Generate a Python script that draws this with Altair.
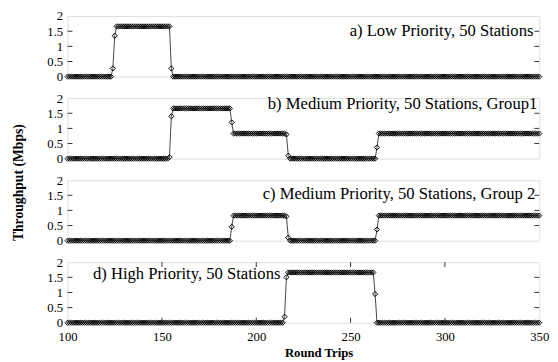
import altair as alt
import pandas as pd

# ---- data ----
rounds = list(range(100, 351))

# runs of (first round trip, last round trip, throughput in Mbps)
runs_a = [(100, 123, 0.0), (124, 124, 0.27), (125, 125, 1.35), (126, 154, 1.66),
          (155, 155, 0.27), (156, 350, 0.0)]
runs_b = [(100, 153, 0.0), (154, 154, 0.05), (155, 155, 1.4), (156, 186, 1.66),
          (187, 187, 1.2), (188, 215, 0.83), (216, 216, 0.8), (217, 217, 0.1),
          (218, 263, 0.0), (264, 264, 0.37), (265, 350, 0.83)]
runs_c = [(100, 186, 0.0), (187, 187, 0.46), (188, 215, 0.83), (216, 216, 0.8),
          (217, 217, 0.1), (218, 263, 0.0), (264, 264, 0.37), (265, 350, 0.83)]
runs_d = [(100, 214, 0.0), (215, 215, 0.2), (216, 216, 1.5), (217, 262, 1.66),
          (263, 263, 0.95), (264, 350, 0.0)]

labels = ["a) Low Priority, 50 Stations",
          "b) Medium Priority, 50 Stations, Group1",
          "c) Medium Priority, 50 Stations, Group 2",
          "d) High Priority, 50 Stations"]

y_ticks = [0, 0.5, 1, 1.5, 2]
y_inner_ticks = [0.5, 1, 1.5]
x_ticks = [100, 150, 200, 250, 300, 350]
x_inner_ticks = [150, 200, 250, 300]


def expand(runs):
    vals = []
    for s, e, v in runs:
        vals += [v] * (e - s + 1)
    return vals


W, H = 483, 62
FONT = "Liberation Serif"
xscale = alt.Scale(domain=[100, 350], nice=False, zero=False)
yscale = alt.Scale(domain=[0, 2], nice=False, zero=False)


def panel(runs, label, align, tx, ty, ytitle=False, last=False):
    df = pd.DataFrame({"r": rounds, "t": expand(runs)})
    if last:
        xaxis = alt.Axis(values=x_ticks, ticks=False, domain=False, grid=False,
                         labelFont=FONT, labelFontSize=13, labelPadding=8,
                         labelFlush=False, labelColor="black",
                         title="Round Trips", titleFont=FONT, titleFontSize=13,
                         titleFontWeight="bold", titleColor="black",
                         titleX=257, titleY=35, titleBaseline="alphabetic",
                         titleAlign="center")
    else:
        xaxis = None
    yargs = dict(values=y_ticks, format="~g", ticks=False, domain=False, grid=False,
                 labelFont=FONT, labelFontSize=13, labelPadding=5, labelColor="black")
    if ytitle:
        yaxis = alt.Axis(title="Throughput (Mbps)", titleFont=FONT, titleFontSize=14,
                         titleFontWeight="bold", titleColor="black", titleX=-46,
                         titleY=86, titleBaseline="alphabetic", titleAlign="center",
                         **yargs)
    else:
        yaxis = alt.Axis(title=None, **yargs)

    X = alt.X("r:Q", scale=xscale, axis=xaxis)
    Y = alt.Y("t:Q", scale=yscale, axis=yaxis)
    base = alt.Chart(df)
    line = base.mark_line(color="#444", strokeWidth=1).encode(x=X, y=Y)
    pts = base.mark_point(shape="diamond", filled=False, color="black",
                          size=28, strokeWidth=1, opacity=1).encode(x=X, y=Y)
    ydf = pd.DataFrame({"t": y_inner_ticks})
    lt = alt.Chart(ydf).mark_rule(color="#333", strokeWidth=1).encode(
        y=Y, x=alt.value(0), x2=alt.value(5))
    rt = alt.Chart(ydf).mark_rule(color="#333", strokeWidth=1).encode(
        y=Y, x=alt.value(W - 5), x2=alt.value(W))
    txt = alt.Chart(pd.DataFrame({"s": [label]})).mark_text(
        font=FONT, fontSize=17, color="black", align=align, baseline="alphabetic"
    ).encode(text="s:N", x=alt.value(tx), y=alt.value(ty))
    layers = [line, pts, lt, rt]
    if last:
        xdf = pd.DataFrame({"r": x_inner_ticks})
        bt = alt.Chart(xdf).mark_rule(color="#333", strokeWidth=1).encode(
            x=X, y=alt.value(H - 5), y2=alt.value(H))
        tt = alt.Chart(xdf).mark_rule(color="#333", strokeWidth=1).encode(
            x=X, y=alt.value(0), y2=alt.value(5))
        layers += [bt, tt]
    layers.append(txt)
    return alt.layer(*layers).properties(width=W, height=H)


pa = panel(runs_a, labels[0], "right", 477, 20)
pb = panel(runs_b, labels[1], "right", 481, 11, ytitle=True)
pc = panel(runs_c, labels[2], "right", 479, 19)
pd_ = panel(runs_d, labels[3], "left", 26, 17, last=True)

chart = alt.vconcat(pa, pb, pc, pd_, spacing=22, bounds="flush").properties(
    padding={"left": 3, "top": -3, "right": 0, "bottom": 0}
).configure_view(stroke="#222", strokeWidth=1).configure(background="white")

chart.save("out.html", embed_options={"renderer": "svg", "actions": False})
